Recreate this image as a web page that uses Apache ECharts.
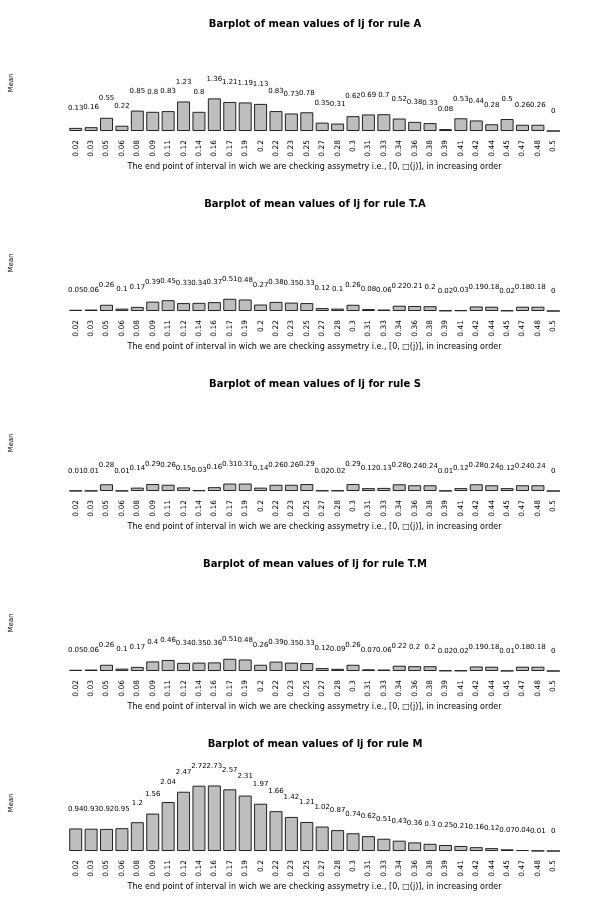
<!DOCTYPE html>
<html><head><meta charset="utf-8">
<script src="https://cdn.jsdelivr.net/npm/echarts@6/dist/echarts.min.js"></script>
<style>html,body{margin:0;padding:0;background:#fff}#c{width:600px;height:900px}</style>
</head><body><div id="c"></div>
<script>
const categories = ['0.02','0.03','0.05','0.06','0.08','0.09','0.11','0.12','0.14','0.16','0.17','0.19','0.2','0.22','0.23','0.25','0.27','0.28','0.3','0.31','0.33','0.34','0.36','0.38','0.39','0.41','0.42','0.44','0.45','0.47','0.48','0.5'];
const ruleNames = ['A','T.A','S','T.M','M'];
const valuesA  = [0.13,0.16,0.55,0.22,0.85,0.8,0.83,1.23,0.8,1.36,1.21,1.19,1.13,0.83,0.73,0.78,0.35,0.31,0.62,0.69,0.7,0.52,0.38,0.33,0.08,0.53,0.44,0.28,0.5,0.26,0.26,0];
const valuesTA = [0.05,0.06,0.26,0.1,0.17,0.39,0.45,0.33,0.34,0.37,0.51,0.48,0.27,0.38,0.35,0.33,0.12,0.1,0.26,0.08,0.06,0.22,0.21,0.2,0.02,0.03,0.19,0.18,0.02,0.18,0.18,0];
const valuesS  = [0.01,0.01,0.28,0.01,0.14,0.29,0.26,0.15,0.03,0.16,0.31,0.31,0.14,0.26,0.26,0.29,0.02,0.02,0.29,0.12,0.13,0.28,0.24,0.24,0.01,0.12,0.28,0.24,0.12,0.24,0.24,0];
const valuesTM = [0.05,0.06,0.26,0.1,0.17,0.4,0.46,0.34,0.35,0.36,0.51,0.48,0.26,0.39,0.35,0.33,0.12,0.09,0.26,0.07,0.06,0.22,0.2,0.2,0.02,0.02,0.19,0.18,0.01,0.18,0.18,0];
const valuesM  = [0.94,0.93,0.92,0.95,1.2,1.56,2.04,2.47,2.72,2.73,2.57,2.31,1.97,1.66,1.42,1.21,1.02,0.87,0.74,0.62,0.51,0.43,0.36,0.3,0.25,0.21,0.16,0.12,0.07,0.04,0.01,0];
const xTitle = 'The end point of interval in wich we are checking assymetry i.e., [0, \u25A1(j)], in increasing order';
const yTitle = 'Mean';

const allValues = [valuesA, valuesTA, valuesS, valuesTM, valuesM];
const FONT = 'DejaVu Sans';
const title = [], grid = [], xAxis = [], yAxis = [], series = [];
allValues.forEach((vals, i) => {
  const base = 131 + 180 * i;
  title.push({text: 'Barplot of mean values of lj for rule ' + ruleNames[i], left: 310, top: 14 + 180 * i, textAlign: 'center',
    textStyle: {fontFamily: FONT, fontSize: 10, fontWeight: 'bold', color: '#000'}});
  grid.push({left: 58, width: 503, top: base - 96, height: 96});
  xAxis.push({type: 'category', gridIndex: i, data: categories,
    axisLine: {show: false}, axisTick: {show: false},
    axisLabel: {rotate: 90, fontFamily: FONT, fontSize: 7.5, color: '#000', margin: 9, interval: 0},
    name: xTitle, nameLocation: 'middle', nameGap: 32,
    nameTextStyle: {fontFamily: FONT, fontSize: 8, color: '#000'}});
  yAxis.push({type: 'value', gridIndex: i, min: 0, max: 4,
    axisLine: {show: false}, axisTick: {show: false}, axisLabel: {show: false}, splitLine: {show: false},
    name: yTitle, nameLocation: 'middle', nameGap: 53, nameRotate: 90,
    nameTextStyle: {fontFamily: FONT, fontSize: 7, color: '#000'}});
  series.push({type: 'bar', xAxisIndex: i, yAxisIndex: i, data: vals, barWidth: 13,
    itemStyle: {color: '#bebebe', borderColor: '#222', borderWidth: 1},
    label: {show: true, position: 'top', distance: 16, fontFamily: FONT, fontSize: 7, color: '#000'},
    animation: false});
});
const chart = echarts.init(document.getElementById('c'), null, {renderer: 'canvas'});
chart.setOption({animation: false, title, grid, xAxis, yAxis, series});
</script></body></html>
